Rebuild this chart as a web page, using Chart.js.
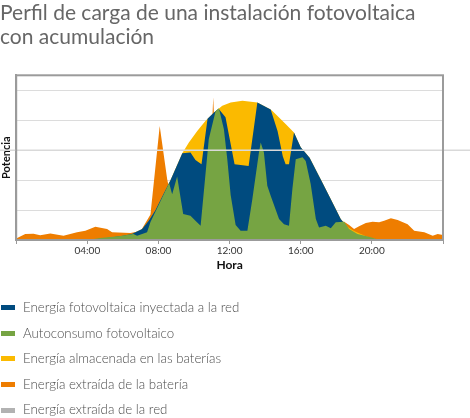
<!DOCTYPE html>
<html>
<head>
<meta charset="utf-8">
<script src="https://cdn.jsdelivr.net/npm/chart.js@4.4.1/dist/chart.umd.min.js"></script>
<style>
  body { margin: 0; background: #fff; }
  #wrap { position: relative; width: 470px; height: 418px; }
  #legend { position: absolute; left: 0; top: 295px; font-family: Lato, sans-serif; font-size: 13.3px; font-weight: 300; color: #4d4d4d; }
  #legend div { height: 25.6px; line-height: 25.6px; white-space: nowrap; }
  #legend span.box { display: inline-block; width: 14px; height: 5px; margin: 0 8px 2px 1px; vertical-align: middle; }
</style>
</head>
<body>
<div id="wrap">
  <canvas id="myChart" width="470" height="418"></canvas>
  <div id="legend"></div>
</div>
<script>
const titleLines = ['Perfil de carga de una instalación fotovoltaica', 'con acumulación'];
const seriesNames = [
  'Energía fotovoltaica inyectada a la red',
  'Autoconsumo fotovoltaico',
  'Energía almacenada en las baterías',
  'Energía extraída de la batería',
  'Energía extraída de la red'
];
const seriesColors = ['#004b7f', '#76a443', '#fbba00', '#ee7d00', '#b2b2b2'];

// yellow top: total PV production (hours / power)
const pvHours = [4, 5, 6, 6.5, 7.08, 7.45, 7.83, 8.25, 8.68, 9.34, 9.71, 10.18, 10.65, 11.12, 11.38, 11.59, 12.06, 12.72, 13.56, 14.31, 14.41, 15.15, 15.62, 16.0, 16.5, 17.1, 17.7, 18.25, 18.6, 19.0, 19.7, 20.4];
const pvValues = [0, 0.06, 0.14, 0.2, 0.37, 0.64, 1.0, 1.5, 2.0, 2.9, 3.26, 3.64, 3.98, 4.26, 4.38, 4.48, 4.59, 4.65, 4.59, 4.36, 4.31, 3.87, 3.59, 3.1, 2.75, 2.05, 1.35, 0.7, 0.45, 0.3, 0.12, 0];

// blue top: PV injected to the grid
const gridHours = [4, 5, 6, 6.5, 7.08, 7.45, 7.83, 8.25, 8.68, 9.34, 9.8, 10.08, 10.42, 10.76, 11.12, 11.38, 11.77, 12.28, 13.07, 13.56, 14.31, 14.7, 14.99, 15.15, 15.34, 15.62, 16.0, 16.5, 17.1, 17.7, 18.25, 18.45, 18.7];
const gridValues = [0, 0.06, 0.14, 0.2, 0.37, 0.64, 1.0, 1.5, 2.0, 2.9, 2.92, 2.67, 2.53, 4.05, 4.26, 4.38, 4.1, 2.53, 2.47, 4.59, 4.36, 3.63, 2.8, 2.53, 2.53, 3.59, 3.1, 2.75, 2.05, 1.35, 0.7, 0.55, 0];

// green top: self consumption
const selfHours = [3.98, 4.73, 5.86, 6.59, 6.8, 7.36, 7.55, 8.6, 8.77, 9.05, 9.39, 9.8, 10.08, 10.37, 10.83, 11.21, 11.4, 11.68, 11.87, 12.06, 12.34, 12.62, 13.0, 13.28, 13.65, 13.75, 13.93, 14.12, 14.31, 14.78, 15.06, 15.34, 15.53, 15.72, 16.1, 16.28, 16.56, 16.85, 17.03, 17.41, 17.69, 17.97, 18.44, 18.72, 19.19, 19.94, 20.39, 20.6];
const selfValues = [0, 0.07, 0.13, 0.2, 0.14, 0.26, 0.6, 1.9, 1.53, 2.12, 0.87, 0.81, 0.64, 0.48, 3.37, 4.3, 4.4, 3.7, 2.7, 1.5, 0.5, 0.31, 0.31, 1.37, 2.92, 3.26, 2.92, 1.81, 1.48, 0.7, 0.53, 0.48, 1.7, 2.7, 2.76, 2.64, 1.87, 0.7, 0.42, 0.48, 0.39, 0.59, 0.61, 0.37, 0.2, 0.09, 0.01, 0];

// orange top: discharged from battery
const batteryHours = [0, 0.51, 0.97, 1.35, 1.92, 2.66, 3.42, 3.89, 4.45, 5.11, 5.39, 6.42, 7.0, 7.55, 8.07, 8.49, 8.68, 9.5, 10.5, 10.85, 11.08, 11.3, 12, 15, 18, 18.44, 18.72, 19.0, 19.28, 19.66, 20.04, 20.41, 20.69, 21.07, 21.45, 22.01, 22.38, 22.95, 23.42, 23.7, 24];
const batteryValues = [0.05, 0.2, 0.21, 0.16, 0.22, 0.14, 0.26, 0.31, 0.44, 0.37, 0.26, 0.23, 0.3, 0.85, 3.81, 2.03, 1.5, 1.0, 1.0, 1.6, 4.77, 1.5, 0.8, 0.8, 0.6, 0.61, 0.5, 0.37, 0.46, 0.57, 0.61, 0.59, 0.64, 0.73, 0.67, 0.53, 0.31, 0.26, 0.14, 0.2, 0.17];

const xTicks = [4, 8, 12, 16, 20];

function pts(hours, values) {
  return hours.map((h, i) => ({ x: h, y: values[i] }));
}

const seriesData = [
  pts(gridHours, gridValues),
  pts(selfHours, selfValues),
  pts(pvHours, pvValues),
  pts(batteryHours, batteryValues),
  []
];
// lower order = drawn on top
const drawOrder = [1, 0, 2, 3, 4];

const data = {
  datasets: seriesNames.map((name, i) => ({
    label: name,
    data: seriesData[i],
    backgroundColor: seriesColors[i],
    borderColor: seriesColors[i],
    borderWidth: 0,
    pointRadius: 0,
    tension: 0,
    fill: 'origin',
    order: drawOrder[i]
  }))
};

const framePlugin = {
  id: 'frame',
  afterDatasetsDraw(chart) {
    const { ctx, chartArea: a, scales } = chart;
    ctx.save();
    const y3 = scales.y.getPixelForValue(3);
    ctx.strokeStyle = '#d9d9d9';
    ctx.lineWidth = 1.5;
    ctx.beginPath();
    ctx.moveTo(0, y3);
    ctx.lineTo(chart.width, y3);
    ctx.stroke();
    ctx.strokeStyle = '#9b9b9b';
    ctx.lineWidth = 2;
    ctx.strokeRect(a.left, a.top, a.right - a.left, a.bottom - a.top);
    ctx.restore();
  }
};

const options = {
  responsive: false,
  animation: false,
  layout: { padding: { left: 0, right: 27, top: 0, bottom: 145.6 } },
  plugins: {
    legend: { display: false },
    tooltip: { enabled: false },
    title: {
      display: true,
      text: titleLines,
      align: 'start',
      color: '#666',
      font: { family: 'Lato', size: 21, weight: 'normal', lineHeight: 1.15 },
      padding: { top: 1, bottom: 26 }
    }
  },
  scales: {
    x: {
      type: 'linear',
      min: 0,
      max: 24,
      ticks: {
        stepSize: 4,
        padding: 1,
        color: '#333',
        font: { family: 'Lato', size: 10 },
        callback: v => xTicks.includes(v) ? String(v).padStart(2, '0') + ':00' : ''
      },
      grid: { drawOnChartArea: false, tickLength: 4, color: '#999' },
      border: { color: '#9b9b9b', width: 1 },
      title: { display: true, text: 'Hora', color: '#111', font: { family: 'Lato', size: 12, weight: 'bold' }, padding: 0 }
    },
    y: {
      min: 0,
      max: 5.5,
      ticks: { display: false, stepSize: 1 },
      grid: { color: '#dcdcdc', drawTicks: false },
      border: { color: '#9b9b9b', width: 2 },
      title: { display: true, text: 'Potencia', color: '#111', font: { family: 'Lato', size: 11, weight: 'bold' }, padding: { top: 0, bottom: 3 } }
    }
  }
};

const config = { type: 'line', data: data, options: options, plugins: [framePlugin] };
const myChart = new Chart(document.getElementById('myChart'), config);

// legend as a vertical list below the chart
const legendEl = document.getElementById('legend');
myChart.data.datasets.forEach(ds => {
  const row = document.createElement('div');
  const box = document.createElement('span');
  box.className = 'box';
  box.style.background = ds.backgroundColor;
  row.appendChild(box);
  row.appendChild(document.createTextNode(ds.label));
  legendEl.appendChild(row);
});
</script>
</body>
</html>
